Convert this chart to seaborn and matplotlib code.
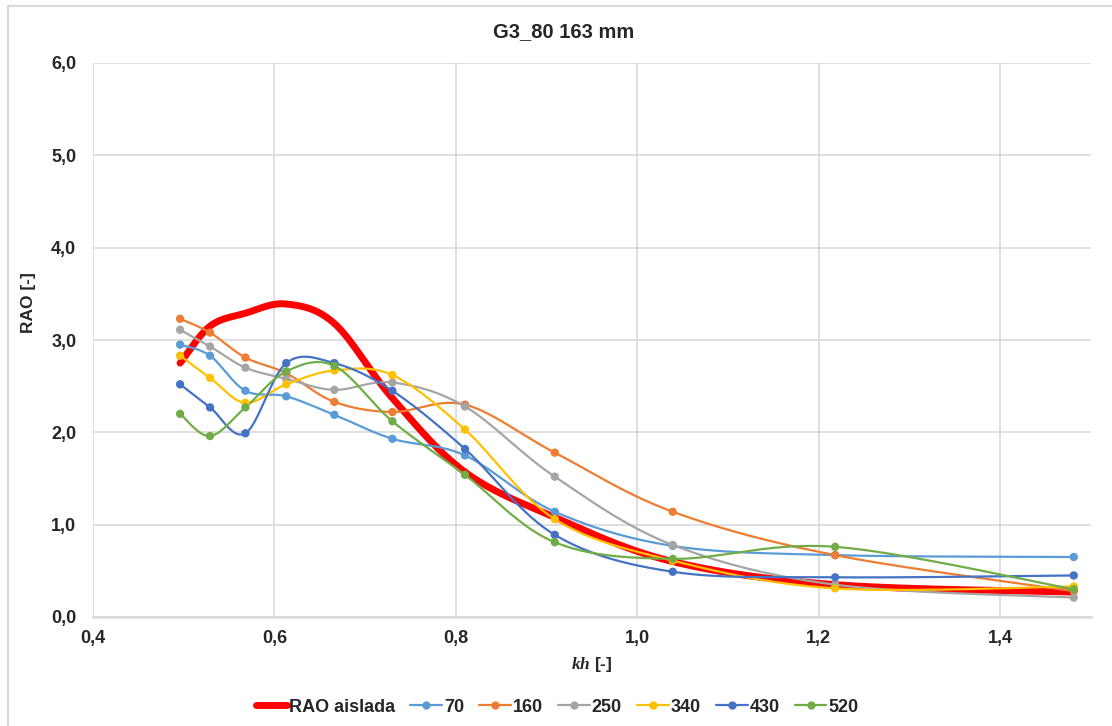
import matplotlib
matplotlib.use('Agg')
import matplotlib.pyplot as plt
from matplotlib.lines import Line2D
from matplotlib.patches import Rectangle
import seaborn as sns
import numpy as np

# values
kh = [0.496, 0.529, 0.568, 0.613, 0.666, 0.730, 0.810, 0.909, 1.039, 1.218, 1.481]
rao_aislada = [2.75, 3.15, 3.29, 3.39, 3.18, 2.37, 1.57, 1.08, 0.60, 0.35, 0.27]
series_names = ['70', '160', '250', '340', '430', '520']
rao_70 = [2.95, 2.83, 2.45, 2.39, 2.19, 1.93, 1.75, 1.14, 0.77, 0.67, 0.65]
rao_160 = [3.23, 3.08, 2.81, 2.64, 2.33, 2.22, 2.30, 1.78, 1.14, 0.67, 0.28]
rao_250 = [3.11, 2.93, 2.70, 2.58, 2.46, 2.54, 2.28, 1.52, 0.78, 0.35, 0.21]
rao_340 = [2.83, 2.59, 2.32, 2.52, 2.67, 2.62, 2.03, 1.06, 0.61, 0.31, 0.33]
rao_430 = [2.52, 2.27, 1.99, 2.75, 2.75, 2.45, 1.82, 0.89, 0.49, 0.43, 0.45]
rao_520 = [2.20, 1.96, 2.27, 2.66, 2.72, 2.12, 1.54, 0.81, 0.63, 0.76, 0.30]
x_ticks = [0.4, 0.6, 0.8, 1.0, 1.2, 1.4]
y_ticks = [0.0, 1.0, 2.0, 3.0, 4.0, 5.0, 6.0]

colors = ['#5B9BD5', '#ED7D31', '#A5A5A5', '#FFC000', '#4472C4', '#70AD47']


def smooth(x, y, n=40):
    """Excel-like smoothed line: cubic bezier with catmull-rom control points"""
    x = np.asarray(x, dtype=float)
    y = np.asarray(y, dtype=float)
    px = np.concatenate([[x[0]], x, [x[-1]]])
    py = np.concatenate([[y[0]], y, [y[-1]]])
    t = np.linspace(0, 1, n, endpoint=False)
    xs, ys = [], []
    for i in range(len(x) - 1):
        x0, x1, x2, x3 = px[i:i + 4]
        y0, y1, y2, y3 = py[i:i + 4]
        cx1, cy1 = x1 + (x2 - x0) / 6, y1 + (y2 - y0) / 6
        cx2, cy2 = x2 - (x3 - x1) / 6, y2 - (y3 - y1) / 6
        b0, b1, b2, b3 = (1 - t) ** 3, 3 * (1 - t) ** 2 * t, 3 * (1 - t) * t ** 2, t ** 3
        xs.append(b0 * x1 + b1 * cx1 + b2 * cx2 + b3 * x2)
        ys.append(b0 * y1 + b1 * cy1 + b2 * cy2 + b3 * y2)
    xs.append([x[-1]])
    ys.append([y[-1]])
    return np.concatenate(xs), np.concatenate(ys)


sns.set_theme(style='whitegrid')
plt.rcParams['font.family'] = ['Liberation Sans', 'DejaVu Sans']
plt.rcParams['mathtext.fontset'] = 'custom'
plt.rcParams['mathtext.it'] = 'Liberation Serif:italic:bold'

fig = plt.figure(figsize=(11.12, 7.26), dpi=100)
ax = fig.add_axes([93 / 1112, 1 - 617 / 726, (1091 - 93) / 1112, (617 - 63) / 726])

# chart area border (only left and top visible in the crop)
fig.patches.append(Rectangle((8 / 1112, -0.1), 1.2, 1.1 - 6 / 726, transform=fig.transFigure,
                             fill=False, edgecolor='#D9D9D9', lw=1.5))

sx, sy = smooth(kh, rao_aislada)
sns.lineplot(x=sx, y=sy, sort=False, estimator=None, color='#FF0000', lw=5, ax=ax, zorder=2)

all_series = [rao_70, rao_160, rao_250, rao_340, rao_430, rao_520]
for vals, color in zip(all_series, colors):
    sx, sy = smooth(kh, vals)
    sns.lineplot(x=sx, y=sy, sort=False, estimator=None, color=color, lw=1.6, ax=ax, zorder=3)
    sns.scatterplot(x=kh, y=vals, color=color, s=36, edgecolor='none', ax=ax, zorder=4)

ax.set_xlim(0.4, 1.5)
ax.set_ylim(0, 6)
ax.set_xticks(x_ticks)
ax.set_yticks(y_ticks)
ax.set_xticklabels([f'{v:.1f}'.replace('.', ',') for v in x_ticks], fontsize=13, fontweight='bold', color='#262626')
ax.set_yticklabels([f'{v:.1f}'.replace('.', ',') for v in y_ticks], fontsize=13, fontweight='bold', color='#262626')
ax.tick_params(axis='both', length=0)
ax.tick_params(axis='x', pad=9)
ax.tick_params(axis='y', pad=12)
ax.grid(True, color='#D9D9D9', lw=1.2)
for side in ['left', 'right', 'top']:
    ax.spines[side].set_visible(False)
ax.spines['bottom'].set_color('#D9D9D9')
ax.spines['bottom'].set_linewidth(1.8)
ax.set_facecolor('white')

ax.set_xlabel(r'$kh$ [-]', fontsize=12.5, fontweight='bold', color='#262626', labelpad=6)
ax.set_ylabel('')
fig.text(28 / 1112, 1 - 303 / 726, 'RAO [-]', rotation=90, ha='center', va='center',
         fontsize=12.5, fontweight='bold', color='#262626')
fig.text(564 / 1112, 1 - 32 / 726, 'G3_80 163 mm', ha='center', va='center',
         fontsize=14.5, fontweight='bold', color='#262626')

handles = [Line2D([], [], color='#FF0000', lw=5)]
handles += [Line2D([], [], color=c, lw=1.6, marker='o', markersize=6, markeredgewidth=0) for c in colors]
labels = ['RAO aislada'] + series_names
leg = fig.legend(handles, labels, loc='center', bbox_to_anchor=(557 / 1112, 1 - 707 / 726), ncol=7,
                 frameon=False, handlelength=1.75, handletextpad=0.1, columnspacing=0.85,
                 prop={'size': 13, 'weight': 'bold'})
for txt in leg.get_texts():
    txt.set_color('#262626')

fig.savefig('out.png', dpi=100, facecolor='white')
